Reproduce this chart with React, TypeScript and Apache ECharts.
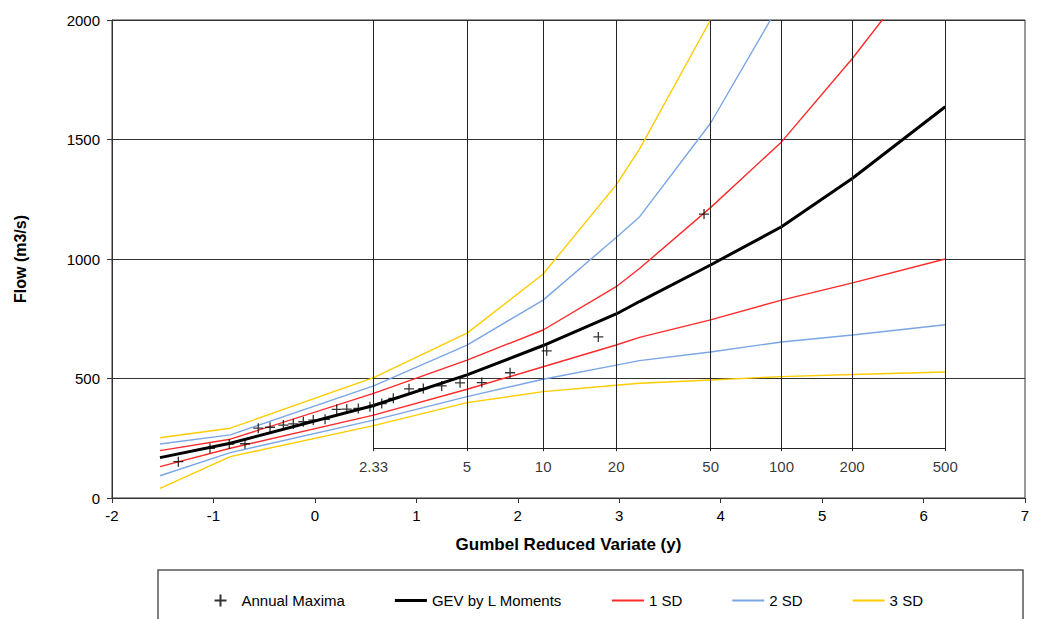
import React, { useEffect, useRef } from "react";
import * as echarts from "echarts";

// Annual maxima (Gumbel reduced variate, flow m3/s)
const amX = [-1.346, -1.034, -0.844, -0.689, -0.558, -0.442, -0.311, -0.213, -0.114, -0.016, 0.1, 0.215, 0.314, 0.428, 0.543, 0.659, 0.773, 0.928, 1.069, 1.25, 1.431, 1.645, 1.924, 2.285, 2.794, 3.836];
const amY = [152, 208, 226, 227, 292, 296, 305, 310, 319, 326, 329, 371, 372, 375, 382, 395, 417, 457, 458, 469, 482, 483, 524, 616, 674, 1188];

// Curve stations (Gumbel reduced variate)
const stationX = [-1.527, -0.834, 0.5785, 1.5, 2.25, 2.97, 3.2, 3.9, 4.6, 5.3, 6.214];
const gev = [169, 229, 387, 515, 638, 770, 822, 975, 1135, 1338, 1637];
const sd1Upper = [198, 246, 438, 577, 703, 884, 960, 1215, 1490, 1840, 2340];
const sd1Lower = [131, 208, 347, 455, 549, 640, 672, 745, 828, 900, 1000];
const sd2Upper = [226, 264, 469, 640, 828, 1090, 1176, 1568, 2080, 2800, 3800];
const sd2Lower = [93, 190, 326, 424, 497, 556, 575, 611, 653, 682, 725];
const sd3Upper = [252, 292, 504, 690, 937, 1310, 1460, 2000, 2700, 3600, 5000];
const sd3Lower = [40, 173, 303, 399, 445, 472, 480, 494, 508, 517, 527];

// Return period scale
const rpLabels = ["2.33", "5", "10", "20", "50", "100", "200", "500"];
const rpX = [0.5785, 1.4999, 2.2504, 2.9702, 3.9019, 4.6001, 5.2958, 6.2136];
const rpBase = 209;
const rpTickEnd = 196;
const flowMax = 2000;

const FONT = "Liberation Sans, Arial, sans-serif";
const RED = "#ff2a2a";
const BLUE = "#7aa6e6";
const YELLOW = "#ffcc00";

const pair = (xs: number[], ys: number[]) => xs.map((x, i) => [x, ys[i]]);

export default function App() {
  const ref = useRef<HTMLDivElement>(null);
  useEffect(() => {
    if (!ref.current) return;
    const chart = echarts.init(ref.current, null, { renderer: "svg" });
    const lineBase = (name: string, data: number[], color: string, width: number) => ({
      name,
      type: "line",
      data: pair(stationX, data),
      symbol: "none",
      smooth: false,
      clip: true,
      lineStyle: { color, width },
      itemStyle: { color },
      z: 3,
    });
    const rpMarkLines: any[] = rpX.map((x) => [
      { coord: [x, rpTickEnd] },
      { coord: [x, flowMax] },
    ]);
    rpMarkLines.push([
      { coord: [rpX[0], rpBase] },
      { coord: [rpX[rpX.length - 1], rpBase] },
    ]);
    const thinIcon = "path://M0,0L32,0L32,2L0,2Z";
    const thickIcon = "path://M0,0L32,0L32,3.2L0,3.2Z";
    chart.setOption({
      animation: false,
      backgroundColor: "#fff",
      textStyle: { fontFamily: FONT, color: "#000" },
      grid: {
        left: 112,
        top: 20,
        right: 12,
        bottom: 121,
        show: true,
        borderColor: "#333",
        borderWidth: 1,
      },
      xAxis: {
        type: "value",
        min: -2,
        max: 7,
        interval: 1,
        name: "Gumbel Reduced Variate (y)",
        nameLocation: "middle",
        nameGap: 38,
        nameTextStyle: { fontSize: 17, fontWeight: "bold", color: "#000", fontFamily: FONT },
        axisLine: { onZero: false, lineStyle: { color: "#333", width: 1 } },
        axisTick: { show: true, length: 5, lineStyle: { color: "#333" } },
        axisLabel: { fontSize: 15, color: "#000", margin: 10, fontFamily: FONT },
        splitLine: { show: false },
      },
      yAxis: {
        type: "value",
        min: 0,
        max: 2000,
        interval: 500,
        name: "Flow (m3/s)",
        nameLocation: "middle",
        nameGap: 84,
        nameTextStyle: { fontSize: 16, fontWeight: "bold", color: "#000", fontFamily: FONT },
        axisLine: { show: true, onZero: false, lineStyle: { color: "#333", width: 1 } },
        axisTick: { show: true, length: 5, lineStyle: { color: "#333" } },
        axisLabel: {
          fontSize: 15,
          color: "#000",
          margin: 12,
          fontFamily: FONT,
          formatter: (v: number) => String(v),
        },
        splitLine: { show: true, lineStyle: { color: "#333", width: 1 } },
      },
      legend: {
        left: 207,
        top: 587,
        itemGap: 50,
        itemWidth: 32,
        itemHeight: 12,
        textStyle: { fontSize: 15, color: "#000", fontFamily: FONT },
        data: [
          { name: "Annual Maxima" },
          { name: "GEV by L Moments", icon: thickIcon },
          { name: "1 SD", icon: thinIcon },
          { name: "2 SD", icon: thinIcon },
          { name: "3 SD", icon: thinIcon },
        ],
      },
      graphic: [
        {
          type: "rect",
          shape: { x: 158, y: 570, width: 865, height: 60 },
          style: { fill: "none", stroke: "#555", lineWidth: 1.5 },
          silent: true,
        },
      ],
      series: [
        {
          name: "rp-frame",
          type: "line",
          data: [],
          silent: true,
          markLine: {
            silent: true,
            symbol: "none",
            label: { show: false },
            lineStyle: { color: "#222", width: 1, type: "solid" },
            data: rpMarkLines,
          },
          z: 1,
        },
        {
          name: "rp-labels",
          type: "scatter",
          data: rpX.map((x, i) => [x, rpBase, rpLabels[i]]),
          symbolSize: 0,
          silent: true,
          label: {
            show: true,
            position: "bottom",
            distance: 11,
            fontSize: 15,
            color: "#000",
            fontFamily: FONT,
            formatter: (p: any) => p.data[2],
          },
          z: 1,
        },
        lineBase("3 SD", sd3Upper, YELLOW, 1.4),
        lineBase("3 SD", sd3Lower, YELLOW, 1.4),
        lineBase("2 SD", sd2Upper, BLUE, 1.4),
        lineBase("2 SD", sd2Lower, BLUE, 1.4),
        lineBase("1 SD", sd1Upper, RED, 1.4),
        lineBase("1 SD", sd1Lower, RED, 1.4),
        { ...lineBase("GEV by L Moments", gev, "#000", 3), z: 4 },
        {
          name: "Annual Maxima",
          type: "scatter",
          data: pair(amX, amY),
          symbol: "path://M0,5L10,5M5,0L5,10",
          symbolSize: 10,
          itemStyle: { color: "none", borderColor: "#000", borderWidth: 1.3 },
          z: 5,
        },
      ],
    });
    return () => chart.dispose();
  }, []);
  return (
    <div
      ref={ref}
      style={{ position: "fixed", left: 0, top: 0, width: 1037, height: 619, background: "#fff" }}
    />
  );
}
